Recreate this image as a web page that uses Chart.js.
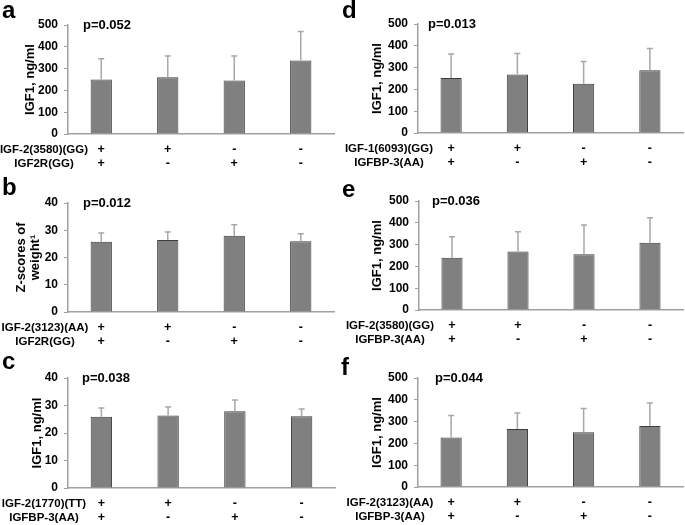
<!DOCTYPE html>
<html>
<head>
<meta charset="utf-8">
<script src="https://cdn.jsdelivr.net/npm/chart.js@4/dist/chart.umd.min.js"></script>
<style>
  html, body { margin: 0; padding: 0; background: #fff; }
  #wrap { position: relative; width: 685px; height: 525px; overflow: hidden; }
  #wrap canvas { position: absolute; }
</style>
</head>
<body>
<div id="wrap"></div>
<script>
// genotype combinations (+ carrier / - non-carrier), same for every panel
const signsRow1 = ["+", "+", "-", "-"];
const signsRow2 = ["+", "-", "+", "-"];

// y ticks
const ticksIGF = [0, 100, 200, 300, 400, 500];
const ticksZ = [0, 10, 20, 30, 40];

// panel a
const meanA = [250, 260, 245, 337];
const upperA = [345, 358, 358, 470];
const rowsA = ["IGF-2(3580)(GG)", "IGF2R(GG)"];
// panel b
const meanB = [25.8, 26.4, 28.0, 26.0];
const upperB = [29.0, 29.4, 32.0, 28.7];
const rowsB = ["IGF-2(3123)(AA)", "IGF2R(GG)"];
// panel c
const meanC = [25.9, 26.4, 27.9, 26.1];
const upperC = [29.1, 29.5, 32.0, 28.7];
const rowsC = ["IGF-2(1770)(TT)", "IGFBP-3(AA)"];
// panel d
const meanD = [252, 268, 226, 288];
const upperD = [362, 365, 328, 388];
const rowsD = ["IGF-1(6093)(GG)", "IGFBP-3(AA)"];
// panel e
const meanE = [240, 268, 256, 309];
const upperE = [336, 359, 390, 423];
const rowsE = ["IGF-2(3580)(GG)", "IGFBP-3(AA)"];
// panel f
const meanF = [227, 266, 251, 280];
const upperF = [328, 340, 360, 385];
const rowsF = ["IGF-2(3123)(AA)", "IGFBP-3(AA)"];

const FONT = "'Liberation Sans', Arial, sans-serif";
const XH = 34;          // x axis height
const XPAD = 9;         // gap axis -> first sign row
const LH = 14;          // line height of the sign rows

const panels = [
  { letter: "a", p: "p=0.052", title: "IGF1, ng/ml", ticks: ticksIGF, mean: meanA, upper: upperA, rows: rowsA,
    box: [0, 0, 342, 180], area: [68, 25, 334, 134], titleX: 30, rowX: 44, pX: 83, letterXY: [2, 18] },
  { letter: "b", p: "p=0.012", title: ["Z-scores of", "weight\u00b9"], ticks: ticksZ, mean: meanB, upper: upperB, rows: rowsB,
    box: [0, 172, 342, 180], area: [68, 203, 334, 312], titleX: 21, rowX: 45, pX: 83, letterXY: [2, 195] },
  { letter: "c", p: "p=0.038", title: "IGF1, ng/ml", ticks: ticksZ, mean: meanC, upper: upperC, rows: rowsC,
    box: [0, 345, 342, 180], area: [68, 378, 335, 488], titleX: 37, rowX: 44, pX: 82, letterXY: [2, 369] },
  { letter: "d", p: "p=0.013", title: "IGF1, ng/ml", ticks: ticksIGF, mean: meanD, upper: upperD, rows: rowsD,
    box: [340, 0, 345, 180], area: [418, 24, 683, 133], titleX: 377, rowX: 389, pX: 428, letterXY: [342, 18] },
  { letter: "e", p: "p=0.036", title: "IGF1, ng/ml", ticks: ticksIGF, mean: meanE, upper: upperE, rows: rowsE,
    box: [340, 172, 345, 180], area: [419, 201, 683, 310], titleX: 377, rowX: 390, pX: 432, letterXY: [342, 197] },
  { letter: "f", p: "p=0.044", title: "IGF1, ng/ml", ticks: ticksIGF, mean: meanF, upper: upperF, rows: rowsF,
    box: [340, 345, 345, 180], area: [418, 378, 683, 487], titleX: 377, rowX: 390, pX: 435, letterXY: [341, 375] }
];

// letters, p values, row names and the (upper only) error bars
const extras = {
  id: "extras",
  afterDatasetsDraw(chart, args, p) {
    const ctx = chart.ctx;
    const ys = chart.scales.y, xs = chart.scales.x;
    const meta = chart.getDatasetMeta(0);
    const ox = p.box[0], oy = p.box[1];
    ctx.save();
    ctx.strokeStyle = "#a8a8a8";
    ctx.lineWidth = 1.5;
    meta.data.forEach((bar, i) => {
      const y0 = ys.getPixelForValue(p.mean[i]);
      const y1 = ys.getPixelForValue(p.upper[i]);
      ctx.beginPath();
      ctx.moveTo(bar.x, y0);
      ctx.lineTo(bar.x, y1);
      ctx.moveTo(bar.x - 3, y1);
      ctx.lineTo(bar.x + 3, y1);
      ctx.stroke();
    });

    ctx.fillStyle = "#000";
    ctx.textBaseline = "middle";
    ctx.font = "bold 13px " + FONT;
    ctx.textAlign = "left";
    ctx.fillText(p.p, p.pX - ox, chart.chartArea.top);

    ctx.font = "bold 11.5px " + FONT;
    ctx.textAlign = "center";
    p.rows.forEach((r, i) => {
      ctx.fillText(r, p.rowX - ox, xs.top + XPAD + LH * (i + 0.5));
    });

    ctx.font = "bold 24px " + FONT;
    ctx.textAlign = "left";
    ctx.textBaseline = "alphabetic";
    ctx.fillText(p.letter, p.letterXY[0] - ox, p.letterXY[1] - oy);
    ctx.restore();
  }
};

const wrap = document.getElementById("wrap");

panels.forEach(p => {
  const [bx, by, bw, bh] = p.box;
  const [al, at, ar, ab] = p.area;
  const cv = document.createElement("canvas");
  cv.width = bw; cv.height = bh;
  cv.style.left = bx + "px"; cv.style.top = by + "px";
  cv.style.width = bw + "px"; cv.style.height = bh + "px";
  wrap.appendChild(cv);

  const titleLH = 14;
  const ymax = p.ticks[p.ticks.length - 1];

  new Chart(cv, {
    type: "bar",
    data: {
      labels: signsRow1.map((s, i) => [s, signsRow2[i]]),
      datasets: [{
        data: p.mean,
        backgroundColor: "#808080",
        borderColor: "#3c3c3c",
        borderWidth: 1,
        barPercentage: 0.32,
        categoryPercentage: 1
      }]
    },
    options: {
      responsive: false,
      animation: false,
      layout: { padding: { left: 0, top: at - by, right: bx + bw - ar, bottom: by + bh - ab - XH } },
      plugins: { legend: { display: false }, tooltip: { enabled: false }, extras: p },
      scales: {
        x: {
          grid: { display: false, drawTicks: false },
          border: { color: "#a0a0a0", width: 1.5 },
          ticks: { color: "#000", padding: XPAD, maxRotation: 0, autoSkip: false,
                   font: { family: FONT, size: 12.5, weight: "bold", lineHeight: LH + "px" } },
          afterFit: s => { s.height = XH; }
        },
        y: {
          min: 0, max: ymax,
          afterBuildTicks: s => { s.ticks = p.ticks.map(v => ({ value: v })); },
          grid: { drawOnChartArea: false, tickLength: 4, color: "#a0a0a0" },
          border: { color: "#a0a0a0", width: 1.5 },
          ticks: { color: "#000", padding: 6, font: { family: FONT, size: 12, weight: "bold" } },
          title: {
            display: true, text: p.title, color: "#000",
            font: { family: FONT, size: 13, weight: "bold", lineHeight: titleLH + "px" },
            padding: { top: p.titleX - bx - titleLH / 2, bottom: 0 }
          },
          afterFit: s => { s.width = al - bx; }
        }
      }
    },
    plugins: [extras]
  });
});
</script>
</body>
</html>
